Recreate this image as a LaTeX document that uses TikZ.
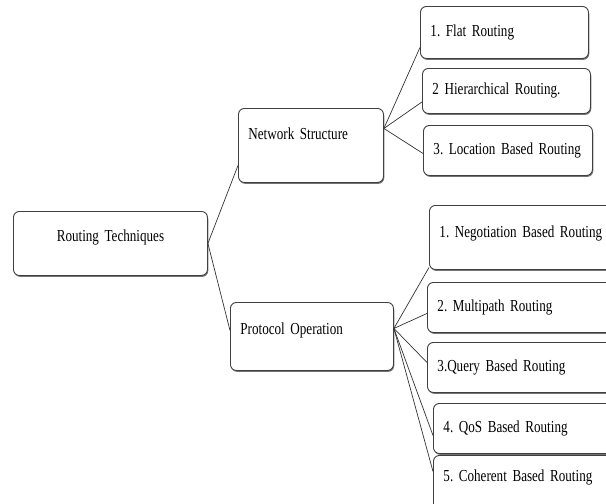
\documentclass[tikz,border=0pt]{standalone}
\usepackage{fontspec}
\setmainfont{Liberation Serif}[FakeStretch=0.78]
\usetikzlibrary{shadows}
\DeclareRobustCommand\boxfont{\fontsize{16.8}{19}\selectfont\frenchspacing\spaceskip=2.4pt\relax}

\begin{document}
\begin{tikzpicture}[
            x=1pt, y=-1pt,
            every node/.style={font=\boxfont},
            box/.style={rectangle, draw=black!75, line width=0.9pt, fill=white, rounded corners=6pt, anchor=north west, inner xsep=10pt, inner ysep=0pt, align=left, drop shadow={shadow xshift=0.8pt, shadow yshift=-1.4pt, fill=black!55, opacity=1}},
            link/.style={draw=black!80, line width=0.7pt}
        ]
            \useasboundingbox (0,0) rectangle (606,504);
            \clip (0,0) rectangle (606,504);

            \node[box, text width=174pt, minimum height=64pt, align=center, text depth=15pt] (RT) at (13,211) {Routing Techniques};
            \node[box, text width=125pt, minimum height=74pt, text depth=23pt] (NS) at (238,108) {Network Structure};
            \node[box, text width=143pt, minimum height=68pt, text depth=15pt] (PO) at (230,302) {Protocol Operation};

            \node[box, text width=148pt, minimum height=52pt] (F1) at (420,6) {1. Flat Routing};
            \node[box, text width=148pt, minimum height=45pt] (F2) at (422,68) {2 Hierarchical Routing.};
            \node[box, text width=149pt, minimum height=50pt] (F3) at (423,125) {\mbox{3. Location Based Routing}};

            \node[box, text width=180pt, minimum height=64pt, text depth=11pt] (P1) at (429,205) {\mbox{1. Negotiation Based Routing}};
            \node[box, text width=180pt, minimum height=50pt] (P2) at (427,282) {2. Multipath Routing};
            \node[box, text width=180pt, minimum height=50pt] (P3) at (427,342) {3.Query Based Routing};
            \node[box, text width=180pt, minimum height=50pt] (P4) at (433,403) {4. QoS Based Routing};
            \node[box, text width=180pt, minimum height=58pt, text depth=17pt] (P5) at (433,455) {5. Coherent Based Routing};

            \draw[link] (RT.east) -- ([yshift=-20pt]NS.west);
            \draw[link] (RT.east) -- ([yshift=6pt]PO.west);
            \draw[link] ([yshift=17pt]NS.east) -- ([yshift=-15pt]F1.west);
            \draw[link] ([yshift=17pt]NS.east) -- ([yshift=-11pt]F2.west);
            \draw[link] ([yshift=17pt]NS.east) -- ([yshift=-3pt]F3.west);
            \draw[link] ([yshift=8pt]PO.east) -- ([yshift=-30pt]P1.west);
            \draw[link] ([yshift=8pt]PO.east) -- ([yshift=-6pt]P2.west);
            \draw[link] ([yshift=8pt]PO.east) -- ([yshift=5pt]P3.west);
            \draw[link] ([yshift=8pt]PO.east) -- ([yshift=-7pt]P4.west);
            \draw[link] ([yshift=8pt]PO.east) -- ([yshift=13pt]P5.west);
        \end{tikzpicture}
\end{document}
